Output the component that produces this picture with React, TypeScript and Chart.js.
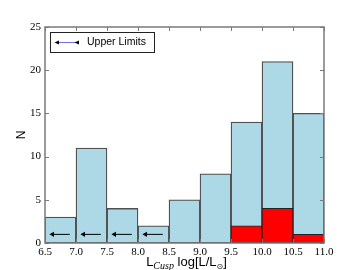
import { useEffect, useRef } from "react";
import { Chart, registerables } from "chart.js";

Chart.register(...registerables);

// ---- data ----
const binEdges = [6.5, 7.0, 7.5, 8.0, 8.5, 9.0, 9.5, 10.0, 10.5, 11.0];
const allCounts = [3, 11, 4, 2, 5, 8, 14, 21, 15];
const detectedCounts = [0, 0, 0, 0, 0, 0, 2, 4, 1];
const limitTails = [6.9, 7.4, 7.9, 8.4];
const limitHeads = [6.62, 7.12, 7.62, 8.12];
const limitLevel = 1;
const xTicks = [6.5, 7.0, 7.5, 8.0, 8.5, 9.0, 9.5, 10.0, 10.5, 11.0];
const yTicks = [0, 5, 10, 15, 20, 25];
const legendLabel = "Upper Limits";
const yTitle = "N";
const xTitleParts = [
  { t: "L", kind: "main" },
  { t: "Cusp", kind: "sub-italic" },
  { t: " log[L/L", kind: "main" },
  { t: "\u2299", kind: "sub" },
  { t: "]", kind: "main" },
];

const centers = binEdges.slice(0, -1).map((e, i) => (e + binEdges[i + 1]) / 2);

const SANS = "'Liberation Sans', Arial, sans-serif";
const SERIF = "'Liberation Serif', 'DejaVu Serif', serif";

const arrowData: { x: number; y: number | null }[] = [];
limitTails.forEach((t, i) => {
  arrowData.push({ x: t, y: limitLevel });
  arrowData.push({ x: limitHeads[i], y: limitLevel });
  arrowData.push({ x: limitHeads[i] + 0.01, y: null });
});

const decorPlugin = {
  id: "decor",
  afterDatasetsDraw(chart: any) {
    const { ctx, chartArea: a, scales } = chart;
    const xs = scales.x;
    const ys = scales.y;
    ctx.save();
    ctx.strokeStyle = "#7a7a7a";
    ctx.lineWidth = 1;
    ctx.beginPath();
    for (const v of xTicks) {
      const px = Math.round(xs.getPixelForValue(v)) + 0.5;
      ctx.moveTo(px, a.bottom);
      ctx.lineTo(px, a.bottom - 4);
      ctx.moveTo(px, a.top);
      ctx.lineTo(px, a.top + 4);
    }
    for (const v of yTicks) {
      const py = Math.round(ys.getPixelForValue(v)) + 0.5;
      ctx.moveTo(a.left, py);
      ctx.lineTo(a.left + 4, py);
      ctx.moveTo(a.right, py);
      ctx.lineTo(a.right - 4, py);
    }
    ctx.stroke();
    ctx.lineWidth = 1.5;
    ctx.strokeRect(a.left, a.top, a.right - a.left, a.bottom - a.top);
    ctx.restore();
  },
  afterDraw(chart: any) {
    const { ctx, chartArea: a } = chart;
    ctx.save();
    // legend box
    const bx = a.left + 5, by = a.top + 5, bw = 104, bh = 20;
    ctx.fillStyle = "#ffffff";
    ctx.fillRect(bx, by, bw, bh);
    ctx.strokeStyle = "#222";
    ctx.lineWidth = 1;
    ctx.strokeRect(bx + 0.5, by + 0.5, bw, bh);
    const ly = by + bh / 2 + 0.5;
    ctx.strokeStyle = "#6f6fee";
    ctx.lineWidth = 1;
    ctx.beginPath();
    ctx.moveTo(bx + 7, ly);
    ctx.lineTo(bx + 27, ly);
    ctx.stroke();
    ctx.fillStyle = "#000";
    for (const hx of [bx + 7, bx + 27]) {
      ctx.beginPath();
      ctx.moveTo(hx - 2.5, ly);
      ctx.lineTo(hx + 2, ly - 2);
      ctx.lineTo(hx + 2, ly + 2);
      ctx.closePath();
      ctx.fill();
    }
    ctx.font = `10.5px ${SANS}`;
    ctx.textBaseline = "middle";
    ctx.textAlign = "left";
    ctx.fillText(legendLabel, bx + 37, ly);

    // y title
    ctx.save();
    ctx.translate(22, (a.top + a.bottom) / 2);
    ctx.rotate(-Math.PI / 2);
    ctx.font = `12px ${SANS}`;
    ctx.textAlign = "center";
    ctx.textBaseline = "middle";
    ctx.fillText(yTitle, 0, 0);
    ctx.restore();

    // x title with subscripts
    const fontFor = (k: string) =>
      k === "main" ? `13px ${SANS}` : k === "sub-italic" ? `italic 10px ${SERIF}` : `8px 'DejaVu Sans', sans-serif`;
    const dyFor = (k: string) => (k === "main" ? 0 : 3);
    let total = 0;
    for (const p of xTitleParts) {
      ctx.font = fontFor(p.kind);
      total += ctx.measureText(p.t).width;
    }
    let x = (a.left + a.right) / 2 + 2 - total / 2;
    const base = 266;
    ctx.textAlign = "left";
    ctx.textBaseline = "alphabetic";
    for (const p of xTitleParts) {
      ctx.font = fontFor(p.kind);
      ctx.fillText(p.t, x, base + dyFor(p.kind));
      x += ctx.measureText(p.t).width;
    }
    ctx.restore();
  },
};

export default function App() {
  const ref = useRef<HTMLCanvasElement>(null);
  useEffect(() => {
    const chart = new Chart(ref.current as HTMLCanvasElement, {
      type: "bar",
      data: {
        datasets: [
          {
            type: "line",
            data: arrowData as any,
            borderColor: "#000",
            borderWidth: 1,
            backgroundColor: "#000",
            pointStyle: "triangle",
            rotation: -90,
            pointRadius: (c: any) => (c.dataIndex % 3 === 1 ? 3 : 0),
            pointBorderWidth: 0,
            spanGaps: false,
            order: 0,
          } as any,
          {
            type: "bar",
            data: centers.map((c, i) => ({ x: c, y: detectedCounts[i] > 0 ? detectedCounts[i] : null })) as any,
            backgroundColor: "#ff0000",
            borderColor: "#222",
            borderWidth: 1,
            borderSkipped: false,
            grouped: false,
            barPercentage: 1,
            categoryPercentage: 1,
            order: 1,
          } as any,
          {
            type: "bar",
            data: centers.map((c, i) => ({ x: c, y: allCounts[i] })) as any,
            backgroundColor: "#add8e6",
            borderColor: "#505050",
            borderWidth: 1.3,
            borderSkipped: false,
            grouped: false,
            barPercentage: 1,
            categoryPercentage: 1,
            order: 2,
          } as any,
        ],
      },
      options: {
        responsive: false,
        animation: false,
        events: [],
        layout: { padding: { top: 27, right: 36, left: 0, bottom: 0 } },
        plugins: { legend: { display: false }, tooltip: { enabled: false } },
        scales: {
          x: {
            type: "linear",
            min: 6.5,
            max: 11,
            offset: false,
            grid: { display: false, drawTicks: false },
            border: { display: false },
            afterFit: (s: any) => {
              s.height = 27;
            },
            afterBuildTicks: (s: any) => {
              s.ticks = xTicks.map((v) => ({ value: v }));
            },
            ticks: {
              autoSkip: false,
              maxRotation: 0,
              padding: 3,
              color: "#000",
              font: { family: SERIF, size: 11 },
              callback: (v: any) => Number(v).toFixed(1),
            },
          },
          y: {
            type: "linear",
            min: 0,
            max: 25,
            grid: { display: false, drawTicks: false },
            border: { display: false },
            afterFit: (s: any) => {
              s.width = 45;
            },
            afterBuildTicks: (s: any) => {
              s.ticks = yTicks.map((v) => ({ value: v }));
            },
            ticks: {
              padding: 4,
              color: "#000",
              font: { family: SERIF, size: 11 },
              callback: (v: any) => String(v),
            },
          },
        },
      } as any,
      plugins: [decorPlugin],
    });
    return () => chart.destroy();
  }, []);
  return (
    <div style={{ position: "fixed", left: 0, top: 0, width: 360, height: 270, background: "#fff" }}>
      <canvas ref={ref} width={360} height={270} style={{ display: "block", width: 360, height: 270 }} />
    </div>
  );
}
